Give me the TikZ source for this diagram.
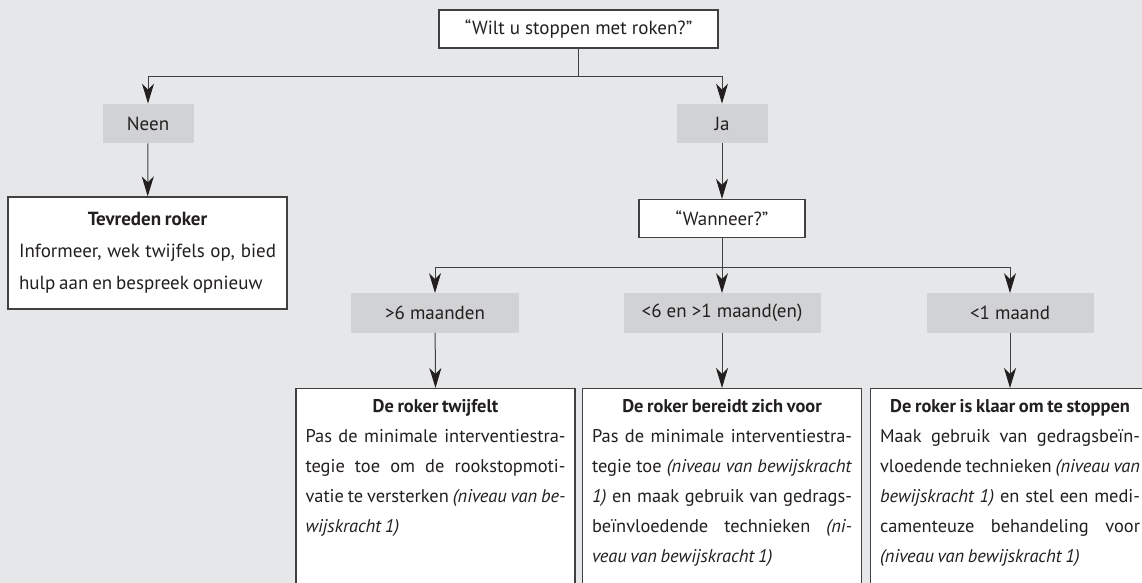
\documentclass[tikz,border=0pt]{standalone}
\usepackage{fontspec}
\setmainfont{PT Sans}
\usetikzlibrary{arrows.meta}
\definecolor{achtergrond}{RGB}{230,231,232}
\definecolor{grijs}{RGB}{209,210,212}
\definecolor{lijn}{RGB}{64,64,64}
\definecolor{tekst}{RGB}{35,31,32}
% een regel over de volle breedte, en de laatste regel
\newcommand\regel[1]{\hbox to\linewidth{#1}}
\newcommand\slotregel[1]{\hbox to\linewidth{#1\hfil}}
\newcommand\krap{\spaceskip=0.2em plus 1em minus 0.06em\relax}
\begin{document}
\begin{tikzpicture}[x=1pt, y=-1pt, font=\fontsize{19}{30}\selectfont, text=tekst,
  vraag/.style = {draw=lijn, fill=white, line width=1.2pt, minimum height=38pt, inner sep=0pt},
  keuze/.style = {fill=grijs, minimum height=39.5pt, inner sep=0pt},
  advies/.style = {draw=lijn, fill=white, line width=1.2pt, anchor=north, text width=260pt, inner xsep=9.5pt, inner ysep=11pt,
    font=\fontsize{18.4}{30}\selectfont},
  pijl/.style = {draw=lijn, line width=1pt, -{Stealth[length=20pt, width=12pt, inset=6pt, color=tekst]}}]
  \clip (0,0) rectangle (1142,583);
  \fill[achtergrond] (0,0) rectangle (1142,583);
  % eerste vraag
  \node[vraag, minimum width=279pt] (1) at (578.5,29) {“Wilt u stoppen met roken?”};
  \node[keuze, minimum width=91pt] (2) at (148,123.5) {Neen};
  \node[keuze, minimum width=91pt] (3) at (722,123.5) {Ja};
  \node[advies, anchor=center, text width=257pt, inner xsep=11pt, inner ysep=0pt, minimum height=112pt,
    font=\fontsize{19}{32}\selectfont] (4) at (147.5,253)
    {\vbox{\krap
     \centerline{\bfseries Tevreden roker}
     \regel{Informeer, wek twijfels op, bied}
     \slotregel{hulp aan en bespreek opnieuw}}};
  % tweede vraag
  \node[vraag, minimum width=166pt] (5) at (722,218.5) {“Wanneer?”};
  \node[keuze, minimum width=168pt] (6) at (435,313) {>6 maanden};
  \node[keuze, minimum width=197pt] (7) at (722,313) {<6 en >1 maand(en)};
  \node[keuze, minimum width=167pt] (8) at (1010,313) {<1 maand};
  \node[advies] (9) at (435.5,388)
    {\vbox{\krap
     \centerline{\bfseries De roker twijfelt}
     \regel{Pas de minimale interventiestra-}
     \regel{tegie toe om de rookstopmoti-}
     \regel{vatie te versterken \textit{(niveau van be-}}
     \slotregel{\textit{wijskracht 1)}}
     \vspace*{80pt}}};
  \node[advies] (10) at (722,388)
    {\vbox{\krap
     \centerline{\bfseries De roker bereidt zich voor}
     \regel{Pas de minimale interventiestra-}
     \regel{tegie toe \textit{(niveau van bewijskracht}}
     \regel{\textit{1)} en maak gebruik van gedrags-}
     \regel{beïnvloedende technieken \textit{(ni-}}
     \slotregel{\textit{veau van bewijskracht 1)}}
     \vspace*{60pt}}};
  \node[advies] (11) at (1010,388)
    {\vbox{\krap
     \centerline{\bfseries De roker is klaar om te stoppen}
     \regel{Maak gebruik van gedragsbeïn-}
     \regel{vloedende technieken \textit{(niveau van}}
     \regel{\textit{bewijskracht 1)} en stel een medi-}
     \regel{camenteuze behandeling voor}
     \slotregel{\textit{(niveau van bewijskracht 1)}}
     \vspace*{60pt}}};
  % verbindingen
  \coordinate (t1) at (1.south |- 0,77);
  \coordinate (t2) at (5.south |- 0,267);
  \draw[lijn, line width=1pt] (1) -- (t1);
  \draw[pijl] (t1) -| (2);
  \draw[pijl] (t1) -| (3);
  \draw[pijl] (2) -- (4);
  \draw[pijl] (3) -- (5);
  \draw[lijn, line width=1pt] (5) -- (t2);
  \draw[pijl] (t2) -| (6);
  \draw[pijl] (t2) -- (7);
  \draw[pijl] (t2) -| (8);
  \draw[pijl] (6) -- (9.north);
  \draw[pijl] (7) -- (10.north);
  \draw[pijl] (8) -- (11.north);
\end{tikzpicture}
\end{document}
